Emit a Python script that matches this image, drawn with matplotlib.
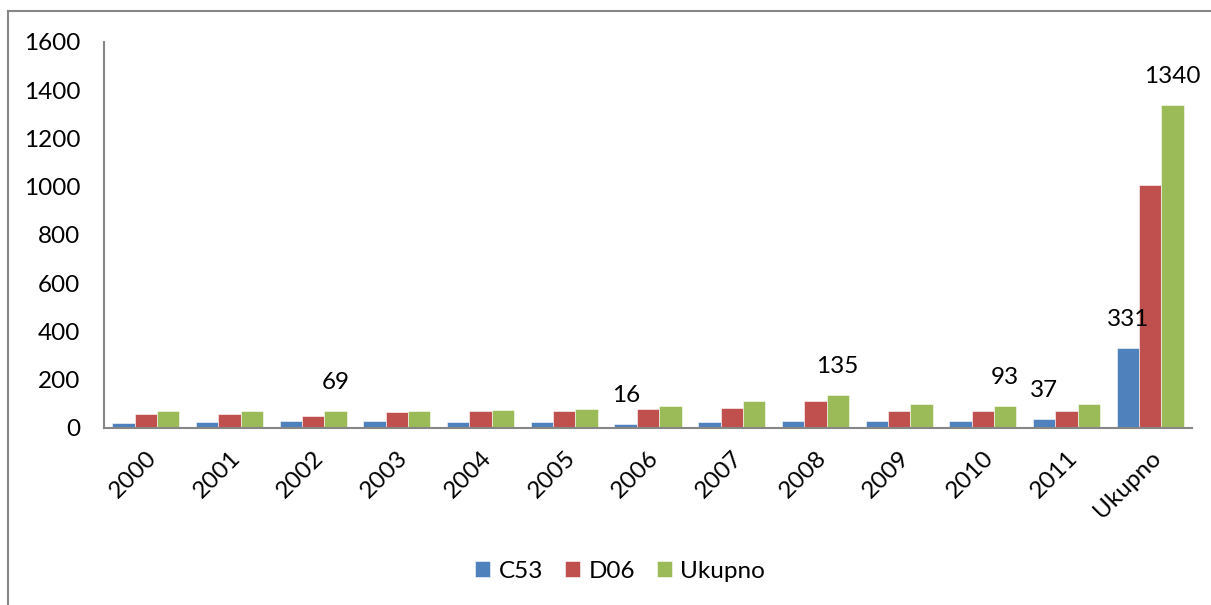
import matplotlib
matplotlib.use("Agg")
import matplotlib.pyplot as plt
import numpy as np
from matplotlib.lines import Line2D

plt.rcParams['font.family'] = ['Lato', 'DejaVu Sans']

categories = ['2000', '2001', '2002', '2003', '2004', '2005', '2006', '2007',
              '2008', '2009', '2010', '2011', 'Ukupno']
c53 = [22, 23, 31, 27, 24, 24, 16, 23, 28, 31, 27, 37, 331]
d06 = [60, 60, 49, 66, 70, 70, 79, 81, 110, 70, 70, 70, 1009]
ukupno = [69, 69, 69, 69, 74, 80, 91, 110, 135, 99, 93, 99, 1340]
series_names = ['C53', 'D06', 'Ukupno']
colors = ['#4F81BD', '#C0504D', '#9BBB59']
# data labels shown: (category index, series index)
labelled = [(2, 2), (6, 0), (8, 2), (10, 2), (11, 0), (12, 0), (12, 2)]
yticks = [0, 200, 400, 600, 800, 1000, 1200, 1400, 1600]

FS = 17.5
W, H = 1211, 605
fig = plt.figure(figsize=(W / 100, H / 100), dpi=100)
ax = fig.add_axes([104 / W, 1 - 428 / H, (1192 - 104) / W, (428 - 42) / H])

data = [c53, d06, ukupno]
x = np.arange(len(categories))
bw = 0.267
for i, (vals, col, name) in enumerate(zip(data, colors, series_names)):
    ax.bar(x + (i - 1) * bw, vals, width=bw, color=col, label=name,
           edgecolor='white', linewidth=0.4)

for ci, si in labelled:
    v = data[si][ci]
    ax.annotate(str(v), (x[ci] + (si - 1) * bw, v), xytext=(0, 18),
                textcoords='offset pixels', ha='center', va='bottom',
                fontsize=FS, color='black')

ax.set_xlim(-0.5, len(categories) - 0.5)
ax.set_ylim(0, 1600)
ax.set_yticks(yticks)
ax.set_xticks(x)
ax.set_xticklabels(categories, rotation=45, ha='right', va='top',
                   rotation_mode='anchor', fontsize=FS)
ax.tick_params(axis='both', length=0, labelsize=FS)
ax.tick_params(axis='y', pad=17)
ax.tick_params(axis='x', pad=14)
for s in ['top', 'right']:
    ax.spines[s].set_visible(False)
for s in ['left', 'bottom']:
    ax.spines[s].set_color('#868686')
    ax.spines[s].set_linewidth(1.5)

leg = fig.legend(loc='center', bbox_to_anchor=(620 / W, 1 - 571 / H), ncol=3,
                 frameon=False, fontsize=FS, handlelength=0.62, handleheight=0.62,
                 handletextpad=0.35, columnspacing=0.9)

# outer chart border
fig.add_artist(Line2D([8 / W, 1.0], [1 - 11 / H, 1 - 11 / H], transform=fig.transFigure,
                      color='#868686', linewidth=1.5))
fig.add_artist(Line2D([8 / W, 8 / W], [0, 1 - 11 / H], transform=fig.transFigure,
                      color='#868686', linewidth=1.5))

fig.savefig('out.png', dpi=100)
